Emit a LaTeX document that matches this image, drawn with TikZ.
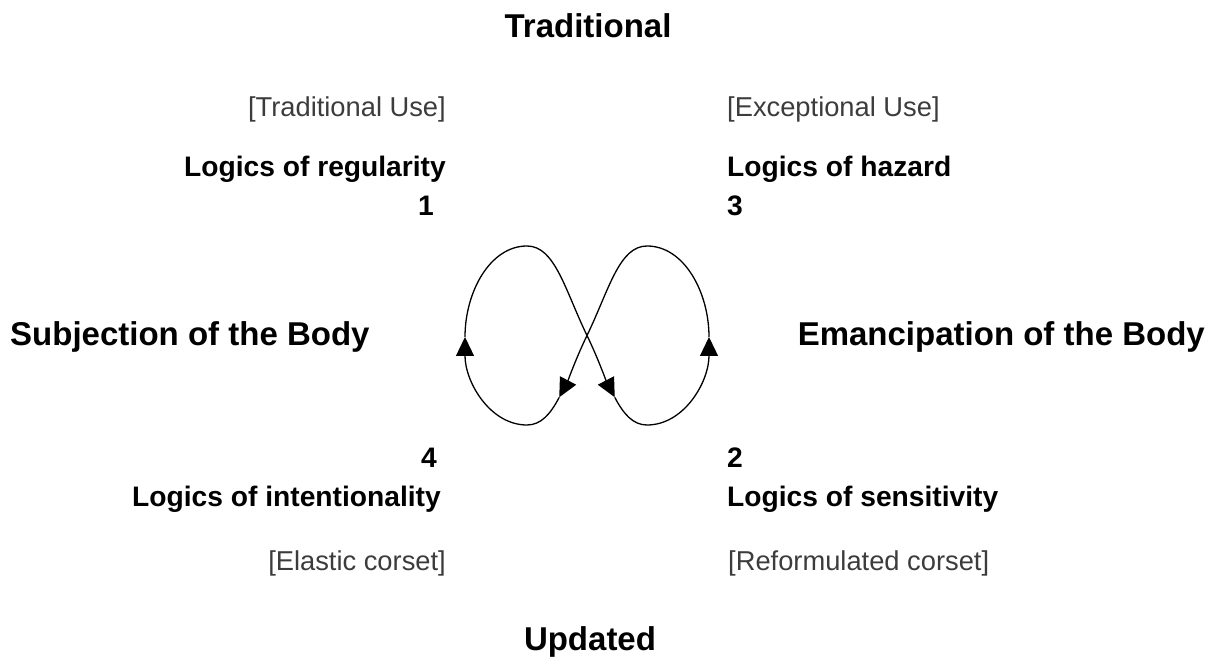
\documentclass[tikz,border=0pt]{standalone}
\usepackage{fontspec}
\setmainfont{Liberation Sans}
\usetikzlibrary{arrows.meta}
\definecolor{usegray}{RGB}{60, 60, 60}

\tikzset{
	axislabel/.style={font=\fontsize{33}{37}\selectfont\bfseries, inner sep=0pt},
	logiclabel/.style={font=\fontsize{28.2}{32}\selectfont\bfseries, inner sep=0pt},
	uselabel/.style={font=\fontsize{27.3}{31}\selectfont, text=usegray, inner sep=0pt},
	loopline/.style={line width=1.3pt, -{Triangle[length=19pt, width=18pt]}}
}

\begin{document}
\begin{tikzpicture}[x=1pt, y=-1pt]
	\useasboundingbox (0,0) rectangle (1216,660);
	\node[axislabel, anchor=base] (trad) at (588,38) {Traditional};
	\node[axislabel, anchor=base] (upd) at (590,650) {Updated};
	\node[axislabel, anchor=base west] (subj) at (10,346) {Subjection of the Body};
	\node[axislabel, anchor=base east] (eman) at (1205,346) {Emancipation of the Body};

	\node[uselabel, anchor=base east] (tuse) at (446,117) {[Traditional Use]};
	\node[logiclabel, anchor=base east] (reg) at (446,177) {Logics of regularity};
	\node[logiclabel, anchor=base east] (one) at (434,216) {1};
	\node[uselabel, anchor=base west] (euse) at (727,117) {[Exceptional Use]};
	\node[logiclabel, anchor=base west] (haz) at (727,177) {Logics of hazard};
	\node[logiclabel, anchor=base west] (three) at (727,216) {3};

	\node[logiclabel, anchor=base east] (four) at (437,467) {4};
	\node[logiclabel, anchor=base east] (inten) at (441,506) {Logics of intentionality};
	\node[uselabel, anchor=base east] (elast) at (446,570) {[Elastic corset]};
	\node[logiclabel, anchor=base west] (two) at (727,467) {2};
	\node[logiclabel, anchor=base west] (sens) at (727,506) {Logics of sensitivity};
	\node[uselabel, anchor=base west] (reform) at (728,570) {[Reformulated corset]};

	\coordinate (l) at (465,337);
	\coordinate (t1) at (527,246);
	\coordinate (x) at (587,335.5);
	\coordinate (p2) at (614.75,397.3);
	\coordinate (b2) at (647,425);
	\coordinate (r) at (709,337);
	\coordinate (t2) at (647,246);
	\coordinate (p4) at (559.25,397.3);
	\coordinate (b1) at (527,425);
	\draw[loopline] (l) .. controls (465,292) and (490,246) .. (t1) .. controls (555,246) and (565,290) .. (x) .. controls (598,358.25) and (606,380.6) .. (p2);
	\draw[loopline] (p2) .. controls (623.5,414) and (633,425) .. (b2) .. controls (684,425) and (709,382) .. (r);
	\draw[loopline] (r) .. controls (709,292) and (684,246) .. (t2) .. controls (619,246) and (609,290) .. (x) .. controls (576,358.25) and (568,380.6) .. (p4);
	\draw[loopline] (p4) .. controls (550.5,414) and (541,425) .. (b1) .. controls (490,425) and (465,382) .. (l);
\end{tikzpicture}
\end{document}
